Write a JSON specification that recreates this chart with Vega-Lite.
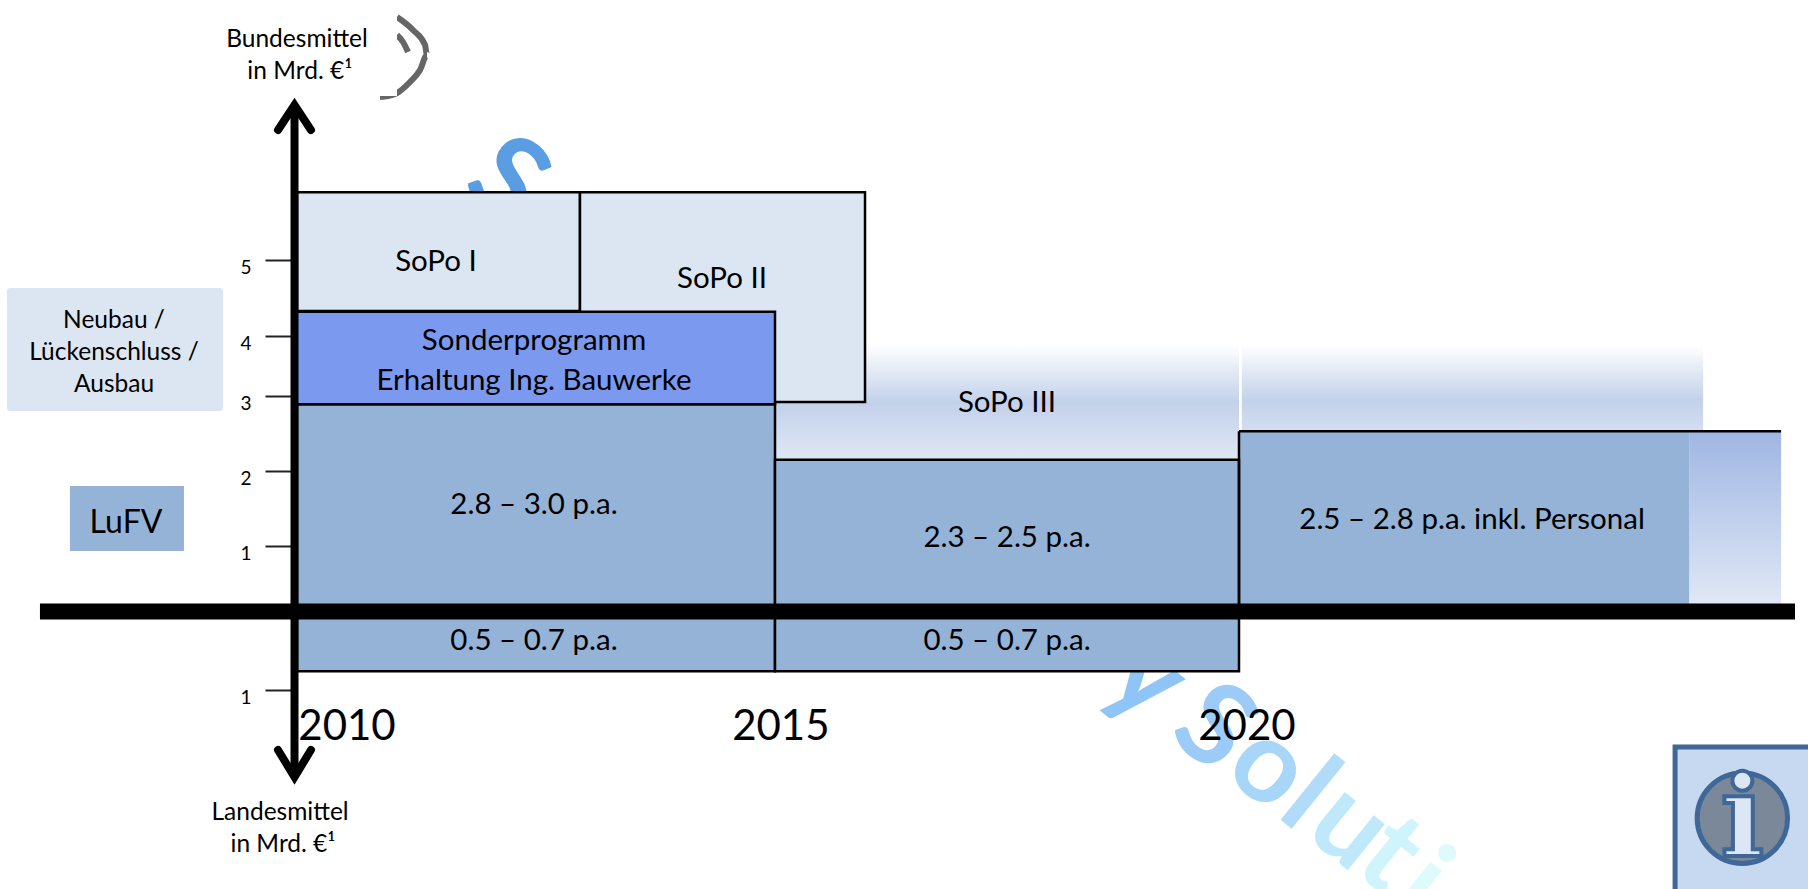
{
"$schema":"https://vega.github.io/schema/vega-lite/v6.json",
"width":1808,"height":889,"autosize":{"type":"none"},"padding":0,"background":"white",
"config":{"view":{"stroke":null},"text":{"font":"Lato"}},
"datasets":{
"watermark":[
{"t":"S","k":"a","x":2012.186,"y":6.026},
{"t":"y","k":"b","x":2019.009,"y":-0.86},
{"t":"S","k":"c","x":2019.72,"y":-1.497},
{"t":"o","k":"d","x":2020.323,"y":-1.981},
{"t":"l","k":"e","x":2020.744,"y":-2.363},
{"t":"u","k":"f","x":2021.196,"y":-2.745},
{"t":"t","k":"g","x":2021.627,"y":-3.102},
{"t":"i","k":"h","x":2021.961,"y":-3.484}],
"arcs":[
{"id":"outer","n":1,"x":2011.046,"y":8.197},{"id":"outer","n":2,"x":2011.213,"y":8.026},{"id":"outer","n":3,"x":2011.339,"y":7.829},{"id":"outer","n":4,"x":2011.36,"y":7.697},{"id":"outer","n":5,"x":2011.287,"y":7.5},{"id":"outer","n":6,"x":2011.182,"y":7.342},{"id":"outer","n":7,"x":2011.046,"y":7.197},{"id":"outer","n":8,"x":2010.952,"y":7.158},{"id":"outer","n":9,"x":2010.868,"y":7.145},
{"id":"inner","n":1,"x":2011.046,"y":7.961},{"id":"inner","n":2,"x":2011.109,"y":7.868},{"id":"inner","n":3,"x":2011.161,"y":7.737}],
"mask":[{"x":2009.144,"x2":2011.046,"y":8.289,"y2":7.158}],
"fade1":[{"x":2015,"x2":2020,"y":3.85,"y2":2.15}],
"fade2":[{"x":2020.03,"x2":2025.0,"y":3.85,"y2":2.53}],
"fade3":[{"x":2024.85,"x2":2025.84,"y":2.53,"y2":0}],
"roundbox":[{"name":"Neubau","x":2006.973,"x2":2009.228,"y":4.632,"y2":2.8}],
"squarebox":[{"name":"LuFV","x":2007.63,"x2":2008.82,"y":1.8,"y2":0.924}],
"bars":[
{"name":"SoPo","x":2010,"x2":2012.96,"y":5.89,"y2":4.33},
{"name":"SoPo","x":2012.96,"x2":2015.97,"y":5.89,"y2":2.92},
{"name":"LuFV","x":2010,"x2":2015,"y":2.89,"y2":0},
{"name":"Sonderprogramm","x":2009.98,"x2":2015,"y":4.32,"y2":2.89},
{"name":"LuFV","x":2015,"x2":2020,"y":2.15,"y2":0},
{"name":"LuFV","x":2010,"x2":2015,"y":0,"y2":-0.76},
{"name":"LuFV","x":2015,"x2":2020,"y":0,"y2":-0.76}],
"open":[{"name":"LuFV","x":2020,"x2":2024.85,"y":2.53,"y2":0}],
"edges":[
{"x":2020,"x2":2025.84,"y":2.53,"y2":2.53},
{"x":2020,"x2":2020,"y":2.53,"y2":0}],
"shaft":[{"x":2009.974,"y":7.0,"y2":-2.108}],
"baseline":[{"x":2007.317,"x2":2025.99,"y":0}],
"heads":[
{"id":"up","n":1,"x":2009.802,"y":6.711},{"id":"up","n":2,"x":2009.974,"y":7.039},{"id":"up","n":3,"x":2010.146,"y":6.711},
{"id":"down","n":1,"x":2009.802,"y":-1.764},{"id":"down","n":2,"x":2009.974,"y":-2.108},{"id":"down","n":3,"x":2010.146,"y":-1.764}],
"captions":[
{"t":"Bundesmittel","x":2010,"y":7.89},{"t":"in Mrd. €¹","x":2010.03,"y":7.47},
{"t":"Landesmittel","x":2009.823,"y":-2.567},{"t":"in Mrd. €¹","x":2009.854,"y":-2.975},
{"t":"Neubau /","x":2008.09,"y":4.2},{"t":"Lückenschluss /","x":2008.09,"y":3.72},{"t":"Ausbau","x":2008.09,"y":3.19}],
"inner":[
{"t":"SoPo I","x":2011.454,"y":4.974},{"t":"SoPo II","x":2014.446,"y":4.75},{"t":"SoPo III","x":2017.5,"y":2.907},
{"t":"2.8 – 3.0 p.a.","x":2012.479,"y":1.547},{"t":"2.3 – 2.5 p.a.","x":2017.5,"y":1.107},
{"t":"0.5 – 0.7 p.a.","x":2012.479,"y":-0.376},{"t":"0.5 – 0.7 p.a.","x":2017.5,"y":-0.376},
{"t":"2.5 – 2.8 p.a. inkl. Personal","x":2022.511,"y":1.347},
{"t":"Sonderprogramm","x":2012.479,"y":3.917},{"t":"Erhaltung Ing. Bauwerke","x":2012.479,"y":3.25}],
"tag":[{"t":"LuFV","x":2008.215,"y":1.31}],
"years":[{"t":"2010","x":2010.523,"y":-1.47},{"t":"2015","x":2015.063,"y":-1.47},{"t":"2020","x":2020.086,"y":-1.47}],
"infobox":[{"x":2024.698,"x2":2026.3,"y":-1.726,"y2":-3.7}],
"infocircle":[{"x":2025.423,"y":-2.634}],
"infodot":[{"x":2025.423,"y":-2.155}],
"infostem":[{"t":"ı","x":2025.423,"y":-3.115}]
},
"data":{"name":"bars"},
"encoding":{
"x":{"field":"x","type":"quantitative","axis":null,"scale":{"domain":[2006.9,2010,2015,2020,2026.13],"range":[0,297,775,1239,1808],"nice":false,"zero":false}},
"y":{"field":"y","type":"quantitative","scale":{"domain":[-3.535,-1,0,1,2,3,4,5,8.421],"range":[889,690,611.5,546,471,396,336,260,0],"nice":false,"zero":false},
"axis":{"title":null,"values":[-1,1,2,3,4,5],"labelExpr":"abs(datum.value)","offset":-291,"tickSize":26,"tickWidth":2,"tickColor":"#222222","domain":false,"grid":false,"labelPadding":14,"labelFont":"Lato","labelFontSize":19,"labelColor":"#000000","labelOffset":7,"labelBaseline":"middle","labelFlush":false,"labelOverlap":false}}
},
"layer":[
{"data":{"name":"watermark"},"mark":{"type":"text","fontSize":115,"fontWeight":"bold","angle":39,"align":"center","baseline":"middle"},
"encoding":{"text":{"field":"t"},"color":{"field":"k","type":"nominal","legend":null,"scale":{"domain":["a","b","c","d","e","f","g","h"],"range":["#5b9de3","#8ec4f6","#9bcbf6","#a8d6f8","#b0dcfa","#bfe9fb","#d0f4fb","#dffafb"]}}}},
{"data":{"name":"arcs"},"mark":{"type":"line","stroke":"#666666","strokeWidth":6,"interpolate":"monotone"},"encoding":{"detail":{"field":"id"},"order":{"field":"n"}}},
{"data":{"name":"mask"},"mark":{"type":"rect","fill":"white"},"encoding":{"x2":{"field":"x2"},"y2":{"field":"y2"}}},
{"data":{"name":"fade1"},"mark":{"type":"rect","fill":{"gradient":"linear","x1":0,"y1":0,"x2":0,"y2":1,"stops":[{"offset":0,"color":"#ffffff"},{"offset":0.5,"color":"#c2d1ea"},{"offset":1,"color":"#dfe7f4"}]}},"encoding":{"x2":{"field":"x2"},"y2":{"field":"y2"}}},
{"data":{"name":"fade2"},"mark":{"type":"rect","fill":{"gradient":"linear","x1":0,"y1":0,"x2":0,"y2":1,"stops":[{"offset":0,"color":"#ffffff"},{"offset":0.64,"color":"#c2d1ea"},{"offset":1,"color":"#d4def1"}]}},"encoding":{"x2":{"field":"x2"},"y2":{"field":"y2"}}},
{"data":{"name":"fade3"},"mark":{"type":"rect","fill":{"gradient":"linear","x1":0,"y1":0,"x2":0,"y2":1,"stops":[{"offset":0,"color":"#9fb6e3"},{"offset":1,"color":"#e3eaf6"}]}},"encoding":{"x2":{"field":"x2"},"y2":{"field":"y2"}}},
{"data":{"name":"roundbox"},"mark":{"type":"rect","cornerRadius":3},"encoding":{"x2":{"field":"x2"},"y2":{"field":"y2"},"fill":{"field":"name","type":"nominal","legend":null,"scale":{"domain":["Neubau","LuFV","SoPo","Sonderprogramm"],"range":["#dce6f2","#95b3d7","#dce6f2","#7b9aef"]}}}},
{"data":{"name":"squarebox"},"mark":{"type":"rect"},"encoding":{"x2":{"field":"x2"},"y2":{"field":"y2"},"fill":{"field":"name","type":"nominal","legend":null}}},
{"data":{"name":"open"},"mark":{"type":"rect"},"encoding":{"x2":{"field":"x2"},"y2":{"field":"y2"},"fill":{"field":"name","type":"nominal","legend":null}}},
{"data":{"name":"bars"},"mark":{"type":"rect","stroke":"#000000","strokeWidth":2.5},"encoding":{"x2":{"field":"x2"},"y2":{"field":"y2"},"fill":{"field":"name","type":"nominal","legend":null}}},
{"data":{"name":"edges"},"mark":{"type":"rule","stroke":"#000000","strokeWidth":2.5},"encoding":{"x2":{"field":"x2"},"y2":{"field":"y2"}}},
{"data":{"name":"shaft"},"mark":{"type":"rule","stroke":"#000000","strokeWidth":8},"encoding":{"y2":{"field":"y2"}}},
{"data":{"name":"baseline"},"mark":{"type":"rule","stroke":"#000000","strokeWidth":16},"encoding":{"x2":{"field":"x2"}}},
{"data":{"name":"heads"},"mark":{"type":"line","stroke":"#000000","strokeWidth":8,"strokeCap":"round","strokeJoin":"miter"},"encoding":{"detail":{"field":"id"},"order":{"field":"n"}}},
{"data":{"name":"captions"},"mark":{"type":"text","fontSize":24.5,"color":"#000000","align":"center","baseline":"middle"},"encoding":{"text":{"field":"t"}}},
{"data":{"name":"inner"},"mark":{"type":"text","fontSize":29.5,"color":"#000000","align":"center","baseline":"middle"},"encoding":{"text":{"field":"t"}}},
{"data":{"name":"tag"},"mark":{"type":"text","fontSize":32,"color":"#000000","align":"center","baseline":"middle"},"encoding":{"text":{"field":"t"}}},
{"data":{"name":"years"},"mark":{"type":"text","fontSize":42,"color":"#000000","align":"center","baseline":"middle"},"encoding":{"text":{"field":"t"}}},
{"data":{"name":"infobox"},"mark":{"type":"rect","fill":"#c6d9f1","stroke":"#3f6797","strokeWidth":5},"encoding":{"x2":{"field":"x2"},"y2":{"field":"y2"}}},
{"data":{"name":"infocircle"},"mark":{"type":"point","filled":true,"shape":"circle","size":8171,"fill":"#7a8899","stroke":"#3f6797","strokeWidth":5,"opacity":1}},
{"data":{"name":"infostem"},"mark":{"type":"text","font":"DejaVu Serif","fontWeight":"bold","fontSize":115,"align":"center","baseline":"alphabetic","fill":"#dce6f4","stroke":"#3f6797","strokeWidth":4},"encoding":{"text":{"field":"t"}}},
{"data":{"name":"infodot"},"mark":{"type":"point","filled":true,"shape":"circle","size":400,"fill":"#dce6f4","stroke":"#3f6797","strokeWidth":4,"opacity":1}}
]
}
